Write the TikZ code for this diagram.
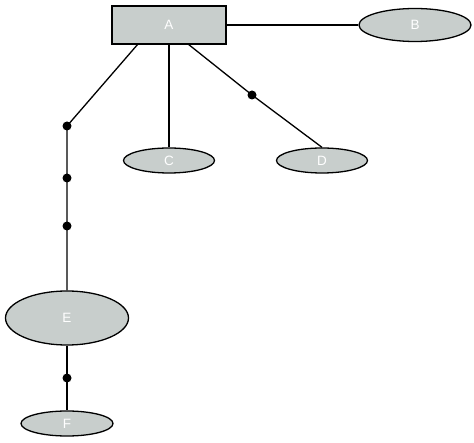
\documentclass[tikz,border=0pt]{standalone}
\usepackage{fontspec}
\setmainfont{Liberation Sans}
\usetikzlibrary{shapes.geometric}
\definecolor{boxfill}{RGB}{200,206,204}
\begin{document}
\begin{tikzpicture}[x=1pt,y=-1pt,line width=1.3pt,
  lbl/.style={text=white,font=\fontsize{13.5}{15}\selectfont},
  ell/.style={ellipse,draw=black,fill=boxfill,inner sep=0pt,lbl},
  rect/.style={rectangle,draw=black,fill=boxfill,inner sep=0pt,lbl},
  dot/.style={circle,fill=black,inner sep=0pt,minimum size=9pt}]
\useasboundingbox (0,0) rectangle (474,443);
\node[rect,minimum width=114pt,minimum height=38pt] (A) at (169,25) {A};
\node[ell,minimum width=112pt,minimum height=33pt] (B) at (415,25) {B};
\node[ell,minimum width=91pt,minimum height=25pt] (C) at (169,160.5) {C};
\node[ell,minimum width=91pt,minimum height=25pt] (D) at (322,160.5) {D};
\node[ell,minimum width=123pt,minimum height=54pt] (E) at (67,318) {E};
\node[ell,minimum width=92pt,minimum height=25pt] (F) at (67,423.5) {F};
\coordinate (a1) at (138,44);
\coordinate (a2) at (188,44);
\node[dot] (d1) at (67,126) {};
\node[dot] (d2) at (67,178) {};
\node[dot] (d3) at (67,226) {};
\node[dot] (d4) at (252,95) {};
\node[dot] (d5) at (67,378) {};
\draw (A.east) -- (B.west);
\draw (A.south) -- (C.north);
\draw (a2) -- (d4.center) -- (D.north);
\draw (a1) -- (d1.center) -- (d2.center) -- (d3.center) -- (E.north);
\draw (E.south) -- (d5.center) -- (F.north);
\end{tikzpicture}
\end{document}
